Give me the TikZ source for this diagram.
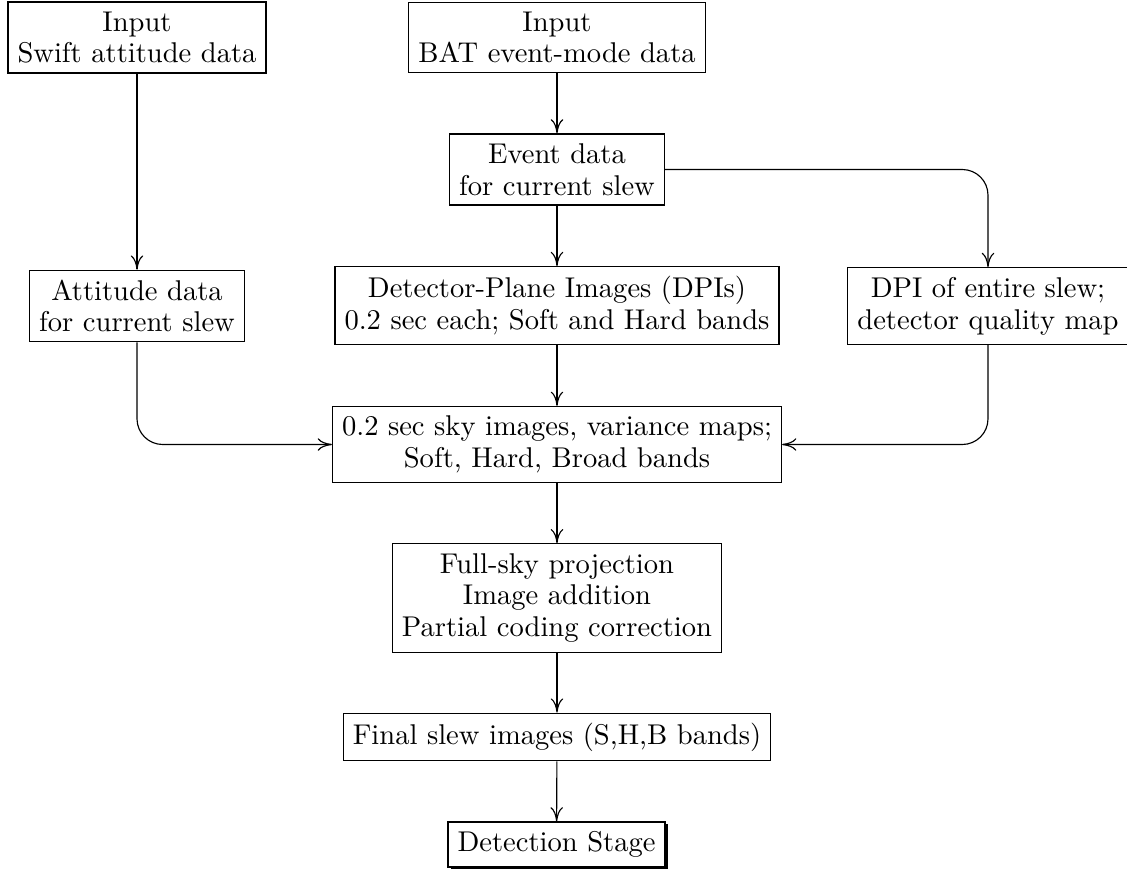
\documentclass[tikz,border=0pt]{standalone}
\usetikzlibrary{arrows.meta,shadows}
\begin{document}
\begin{tikzpicture}[x=0.35pt,y=-0.35pt,
  box/.style={draw, align=center, font=\fontsize{10}{11.1}\selectfont},
  link/.style={-{Computer Modern Rightarrow[length=5pt,width=4.4pt]}, rounded corners=9pt}]
\useasboundingbox (0,0) rectangle (1127,868);
\node[box] (A) at (137,37.5) {Input\\Swift attitude data};
\node[box] (B) at (557,37.5) {Input\\BAT event-mode data};
\node[box] (C) at (557,169.5) {Event data\\for current slew};
\node[box] (D) at (137,306) {Attitude data\\for current slew};
\node[box] (E) at (557,305.5) {Detector-Plane Images (DPIs)\\0.2 sec each; Soft and Hard bands};
\node[box] (F) at (988,306) {DPI of entire slew;\\detector quality map};
\node[box] (G) at (557,444.5) {0.2 sec sky images, variance maps;\\Soft, Hard, Broad bands};
\node[box] (H) at (557,598) {Full-sky projection\\Image addition\\Partial coding correction};
\node[box] (I) at (557,737) {Final slew images (S,H,B bands)};
\node[box, fill=white, general shadow={shadow xshift=1pt, shadow yshift=-0.8pt, fill=black}] (J) at (556.5,844.5) {Detection Stage};
\draw[link] (A) -- (D);
\draw[link] (B) -- (C);
\draw[link] (C) -- (E);
\draw[link] (C.east) -| (F.north);
\draw[link] (D.south) |- (G.west);
\draw[link] (F.south) |- (G.east);
\draw[link] (E) -- (G);
\draw[link] (G) -- (H);
\draw[link] (H) -- (I);
\draw[link] (I) -- (J);
\end{tikzpicture}
\end{document}
